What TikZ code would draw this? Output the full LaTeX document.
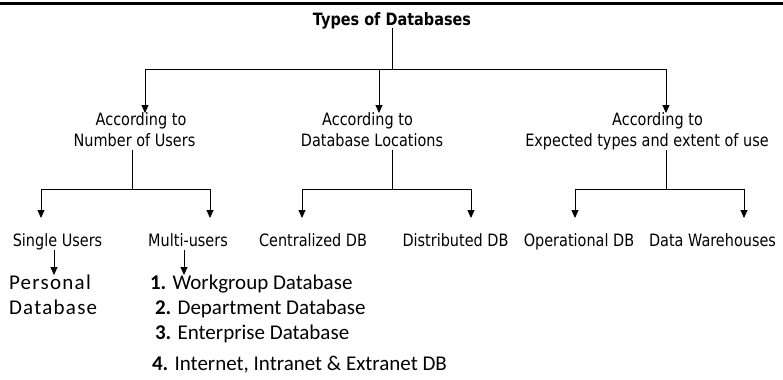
\documentclass[tikz,border=0pt]{standalone}
\usepackage{fontspec}
\setmainfont{DejaVu Sans}[FakeStretch=0.85]
\newfontfamily\calib{Carlito}
\newfontfamily\calibsp{Carlito}[LetterSpace=6]
\usetikzlibrary{arrows.meta}

\tikzset{
  wire/.style={draw=black, line width=0.9bp},
  arr/.style={wire, -{Triangle[length=8bp,width=7bp]}},
  lbl/.style={inner sep=0pt, outer sep=0pt, anchor=base,
              text height=12bp, text depth=3bp,
              font=\fontsize{17bp}{20bp}\selectfont},
  ttl/.style={lbl, font=\fontsize{17bp}{20bp}\selectfont\bfseries},
  item/.style={inner sep=0pt, outer sep=0pt, anchor=base west,
               text height=14bp, text depth=5bp,
               font=\fontsize{21bp}{25bp}\calib},
  itemsp/.style={item, font=\fontsize{21bp}{25bp}\calibsp}
}

\begin{document}
\begin{tikzpicture}[x=1bp,y=-1bp]
\useasboundingbox (0,0) rectangle (783,379);

% heavy rule across the top
\coordinate (ruleL) at (0,3);
\coordinate (ruleR) at (783,3);
\draw[line width=3bp] (ruleL) -- (ruleR);

% root
\node[ttl] (title) at (392,25) {Types of Databases};

% first level
\node[lbl] (accA1) at (141,125) {According to};
\node[lbl] (accA2) at (134.5,146.5) {Number of Users};
\node[lbl] (accB1) at (367.5,125) {According to};
\node[lbl] (accB2) at (372,146.5) {Database Locations};
\node[lbl] (accC1) at (657.5,125) {According to};
\node[lbl] (accC2) at (647,146.5) {Expected types and extent of use};

% second level
\node[lbl] (single) at (57.5,246.5) {Single Users};
\node[lbl] (multi)  at (188,246.5) {Multi-users};
\node[lbl] (central) at (313,246.5) {Centralized DB};
\node[lbl] (distrib) at (455.5,246.5) {Distributed DB};
\node[lbl] (operat) at (579,246.5) {Operational DB};
\node[lbl] (wareh) at (712.5,246.5) {Data Warehouses};

% third level
\node[itemsp] (pers1) at (9,289) {Personal};
\node[itemsp] (pers2) at (9,314) {Database};
\node[item] (mu1) at (150,289) {\textbf{1.} Workgroup Database};
\node[item] (mu2) at (155,314) {\textbf{2.} Department Database};
\node[item] (mu3) at (155,339) {\textbf{3.} Enterprise Database};
\node[item] (mu4) at (152,370) {\textbf{4.} Internet, Intranet \& Extranet DB};

% root to first level
\coordinate (hub) at (392,69);
\coordinate (hA) at (145,69);
\coordinate (hB) at (379,69);
\coordinate (hC) at (666,69);
\draw[wire] (title.south) -- (hub);
\draw[wire] (hA) -- (hC);
\draw[arr] (hA) -- (hA |- accA1.north);
\draw[arr] (hB) -- (hB |- accB1.north);
\draw[arr] (hC) -- (hC |- accC1.north);

% first level to second level
\coordinate (jA) at (132,189);
\coordinate (jB) at (392,189);
\coordinate (jC) at (666,189);
\coordinate (aL) at (41,189);  \coordinate (aR) at (210,189);
\coordinate (bL) at (302,189); \coordinate (bR) at (471,189);
\coordinate (cL) at (575,189); \coordinate (cR) at (744,189);
\coordinate (tip) at (0,218);

\draw[wire] (accA2.south -| jA) -- (jA);
\draw[wire] (aL) -- (aR);
\draw[arr] (aL) -- (aL |- tip);
\draw[arr] (aR) -- (aR |- tip);

\draw[wire] (accB2.south -| jB) -- (jB);
\draw[wire] (bL) -- (bR);
\draw[arr] (bL) -- (bL |- tip);
\draw[arr] (bR) -- (bR |- tip);

\draw[wire] (accC2.south -| jC) -- (jC);
\draw[wire] (cL) -- (cR);
\draw[arr] (cL) -- (cL |- tip);
\draw[arr] (cR) -- (cR |- tip);

% second level to third level
\coordinate (sx) at (54,0);
\coordinate (mx) at (184,0);
\draw[arr] (single.south -| sx) -- (pers1.north -| sx);
\draw[arr] (multi.south -| mx) -- (mu1.north -| mx);
\end{tikzpicture}
\end{document}
